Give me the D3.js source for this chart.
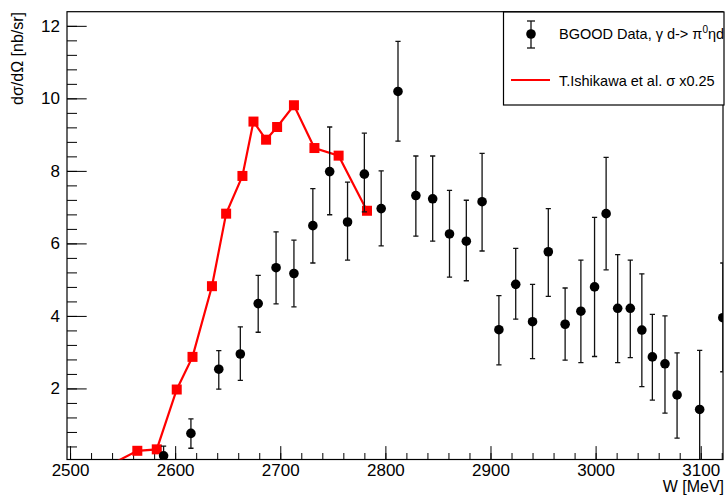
<!DOCTYPE html>
<html>
<head>
<meta charset="utf-8">
<script src="https://cdn.jsdelivr.net/npm/d3@7"></script>
<style>
  body { margin: 0; background: #fff; }
  svg { display: block; font-family: "Liberation Sans", Arial, Helvetica, sans-serif; }
</style>
</head>
<body>
<div id="chart"></div>
<script>
// BGOOD data points (W in MeV, dsigma/dOmega in nb/sr)
var dataW = [2589, 2615, 2641.5, 2662, 2679, 2696, 2713, 2731, 2747, 2764, 2780, 2796, 2812, 2829, 2845,
    2861, 2877, 2892, 2908, 2924, 2940, 2955, 2971, 2986, 2999, 3010, 3021, 3033, 3044, 3054, 3066, 3077.5, 3099, 3121];
var dataXs = [0.14, 0.76, 2.53, 2.95, 4.34, 5.33, 5.17, 6.49, 7.98, 6.59, 7.91, 6.96, 10.19, 7.32, 7.23,
    6.26, 6.06, 7.15, 3.62, 4.87, 3.84, 5.77, 3.77, 4.13, 4.80, 6.82, 4.21, 4.21, 3.61, 2.87, 2.68, 1.82, 1.42, 3.95];
// ends of the error bars
var errHigh = [0.41, 1.16, 3.04, 3.70, 5.12, 6.32, 6.09, 7.51, 9.21, 7.69, 9.04, 8.00, 11.57, 8.41, 8.41,
    7.46, 7.19, 8.48, 4.56, 5.86, 4.87, 6.96, 4.77, 5.54, 6.72, 8.37, 5.69, 5.54, 5.16, 4.04, 4.00, 2.98, 3.05, 5.46];
var errLow = [-0.13, 0.35, 1.98, 2.22, 3.55, 4.33, 4.25, 5.46, 6.79, 5.54, 6.87, 5.93, 8.82, 6.20, 6.06,
    5.07, 4.97, 5.79, 2.65, 3.91, 2.82, 4.54, 2.78, 2.71, 2.88, 5.27, 2.71, 2.85, 2.05, 1.68, 1.32, 0.63, -0.2, 2.46];

// T.Ishikawa et al. curve (already x0.25)
var theoryW = [2540, 2564, 2582.5, 2601.5, 2616.5, 2635, 2648.5, 2664, 2674.5, 2686.5, 2697, 2713, 2732.5, 2755.5, 2782.5];
var theoryXs = [-0.08, 0.28, 0.32, 1.97, 2.87, 4.82, 6.82, 7.86, 9.36, 8.86, 9.21, 9.81, 8.63, 8.42, 6.9];

// axis ticks
var xTicks = [2500, 2600, 2700, 2800, 2900, 3000, 3100];
var yTicks = [2, 4, 6, 8, 10, 12];

var width = 726;
var height = 497;

// frame edges
var fLeft = 67, fRight = 723, fTop = 11.7, fBottom = 459.5;

var svg = d3.select("#chart")
    .append("svg")
    .attr("width", width)
    .attr("height", height);

var xScale = d3.scaleLinear().domain([2497.1, 3121.2]).range([fLeft, fRight]);
var yScale = d3.scaleLinear().domain([0.04, 12.39]).range([fBottom, fTop]);

// clip everything to the frame
svg.append("clipPath").attr("id", "frameClip")
    .append("rect")
    .attr("x", fLeft).attr("y", fTop)
    .attr("width", fRight - fLeft).attr("height", fBottom - fTop);

// minor ticks first
var xMinor = d3.range(2500, 3121, 20);
var yMinor = d3.range(0.4, 12.39, 0.4);

svg.append("g")
    .attr("transform", "translate(0," + fBottom + ")")
    .call(d3.axisBottom(xScale).tickValues(xMinor).tickSize(-6.5).tickFormat(""))
    .call(function(g) { g.select(".domain").remove(); });

svg.append("g")
    .attr("transform", "translate(" + fLeft + ",0)")
    .call(d3.axisLeft(yScale).tickValues(yMinor).tickSize(-10).tickFormat(""))
    .call(function(g) { g.select(".domain").remove(); });

// major ticks with labels
var xAxis = svg.append("g")
    .attr("transform", "translate(0," + fBottom + ")")
    .call(d3.axisBottom(xScale).tickValues(xTicks).tickSize(-13.4).tickPadding(4).tickFormat(d3.format("d")));
xAxis.select(".domain").remove();
xAxis.selectAll("text").attr("font-size", 17).attr("fill", "#000").attr("font-family", null);

var yAxis = svg.append("g")
    .attr("transform", "translate(" + fLeft + ",0)")
    .call(d3.axisLeft(yScale).tickValues(yTicks).tickSize(-19.7).tickPadding(7).tickFormat(d3.format("d")));
yAxis.select(".domain").remove();
yAxis.selectAll("text").attr("font-size", 17).attr("fill", "#000").attr("font-family", null);

svg.selectAll(".tick line").attr("stroke", "#000");

// frame
svg.append("rect")
    .attr("x", fLeft).attr("y", fTop)
    .attr("width", fRight - fLeft).attr("height", fBottom - fTop)
    .attr("fill", "none")
    .attr("stroke", "#000")
    .attr("stroke-width", 1.2);

// axis titles
svg.append("text")
    .attr("x", 724).attr("y", 492)
    .attr("text-anchor", "end")
    .attr("font-size", 16)
    .text("W [MeV]");

svg.append("text")
    .attr("transform", "translate(23,12) rotate(-90)")
    .attr("text-anchor", "end")
    .attr("font-size", 16)
    .text("dσ/dΩ [nb/sr]");

var plot = svg.append("g").attr("clip-path", "url(#frameClip)");

// theory line + squares
var theory = theoryW.map(function(w, i) { return { w: w, v: theoryXs[i] }; });

var line = d3.line()
    .x(function(d) { return xScale(d.w); })
    .y(function(d) { return yScale(d.v); });

plot.append("path")
    .datum(theory)
    .attr("d", line)
    .attr("fill", "none")
    .attr("stroke", "#ff0000")
    .attr("stroke-width", 2.2);

var sq = 10;
plot.selectAll(".thSquare")
    .data(theory.filter(function(d) { return d.v > 0.04; }))
    .enter()
    .append("rect")
    .attr("class", "thSquare")
    .attr("x", function(d) { return xScale(d.w) - sq / 2; })
    .attr("y", function(d) { return yScale(d.v) - sq / 2; })
    .attr("width", sq)
    .attr("height", sq)
    .attr("fill", "#ff0000");

// data with error bars
var points = dataW.map(function(w, i) {
    return { w: w, v: dataXs[i], lo: errLow[i], hi: errHigh[i] };
});

var cap = 2.6;
var bars = plot.selectAll(".errBar").data(points).enter().append("g").attr("class", "errBar")
    .attr("stroke", "#111")
    .attr("stroke-width", 1.3);

bars.append("line")
    .attr("x1", function(d) { return xScale(d.w); })
    .attr("x2", function(d) { return xScale(d.w); })
    .attr("y1", function(d) { return yScale(d.lo); })
    .attr("y2", function(d) { return yScale(d.hi); });

bars.append("line")
    .attr("x1", function(d) { return xScale(d.w) - cap; })
    .attr("x2", function(d) { return xScale(d.w) + cap; })
    .attr("y1", function(d) { return yScale(d.hi); })
    .attr("y2", function(d) { return yScale(d.hi); });

bars.append("line")
    .attr("x1", function(d) { return xScale(d.w) - cap; })
    .attr("x2", function(d) { return xScale(d.w) + cap; })
    .attr("y1", function(d) { return yScale(d.lo); })
    .attr("y2", function(d) { return yScale(d.lo); });

plot.selectAll(".dataDot")
    .data(points)
    .enter()
    .append("circle")
    .attr("class", "dataDot")
    .attr("cx", function(d) { return xScale(d.w); })
    .attr("cy", function(d) { return yScale(d.v); })
    .attr("r", 4.8)
    .attr("fill", "#000");

// legend box
var legend = svg.append("g");

legend.append("rect")
    .attr("x", 503.5).attr("y", 12)
    .attr("width", 220.5).attr("height", 93)
    .attr("fill", "#fff")
    .attr("stroke", "#000")
    .attr("stroke-width", 1.2);

legend.append("line")
    .attr("x1", 531).attr("x2", 531).attr("y1", 21).attr("y2", 48)
    .attr("stroke", "#111").attr("stroke-width", 1.3);
legend.append("line")
    .attr("x1", 527).attr("x2", 535).attr("y1", 21).attr("y2", 21)
    .attr("stroke", "#111").attr("stroke-width", 1.3);
legend.append("line")
    .attr("x1", 527).attr("x2", 535).attr("y1", 48).attr("y2", 48)
    .attr("stroke", "#111").attr("stroke-width", 1.3);
legend.append("circle")
    .attr("cx", 531).attr("cy", 34).attr("r", 4.8).attr("fill", "#000");

var t1 = legend.append("text")
    .attr("x", 559).attr("y", 39)
    .attr("font-size", 14.5);
t1.append("tspan").text("BGOOD Data, γ d-> π");
t1.append("tspan").attr("dy", -6).attr("font-size", 10).text("0");
t1.append("tspan").attr("dy", 6).text("ηd");

legend.append("line")
    .attr("x1", 511).attr("x2", 550).attr("y1", 80).attr("y2", 80)
    .attr("stroke", "#ff0000").attr("stroke-width", 2.2);

legend.append("text")
    .attr("x", 559).attr("y", 86)
    .attr("font-size", 14.5)
    .text("T.Ishikawa et al. σ x0.25");
</script>
</body>
</html>
